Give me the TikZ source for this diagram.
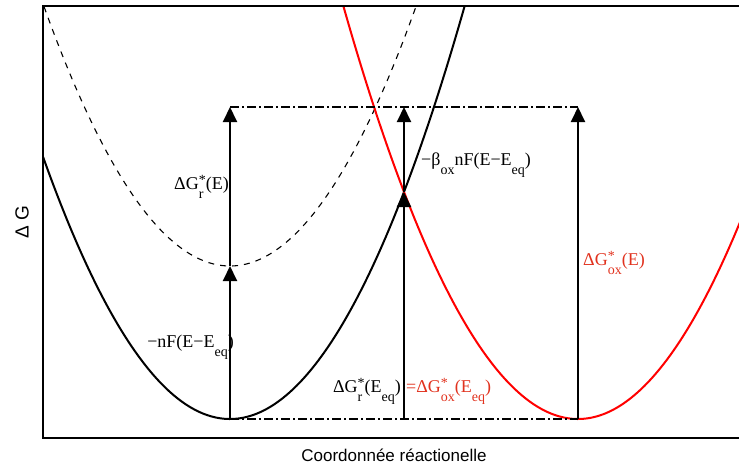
\documentclass[tikz,border=0pt]{standalone}
\usepackage{fontspec}
\setmainfont{Liberation Serif}
\newfontfamily\axisfont{Liberation Sans}
\usetikzlibrary{arrows.meta}
\newcommand\lsb[1]{\raisebox{-9pt}{\fontsize{14}{14}\selectfont #1}}
\newcommand\lsp[1]{\raisebox{5pt}{\fontsize{14}{14}\selectfont #1}}
\newcommand\lss[2]{\ooalign{\lsb{#1}\cr\lsp{#2}\cr}}
\definecolor{curvered}{RGB}{255,0,0}
\definecolor{labred}{RGB}{225,50,30}
\begin{document}
\begin{tikzpicture}[x=1pt,y=-1pt,
  curve/.style={line width=2pt},
  dcurve/.style={line width=1.1pt,dash pattern=on 6pt off 6pt},
  arr/.style={line width=2pt,-{Triangle[width=14pt,length=15pt]}},
  guide/.style={line width=2pt,dash pattern=on 9pt off 3pt on 2pt off 3pt},
  frame/.style={line width=1.5pt},
  lbl/.style={inner sep=0pt,font=\fontsize{18}{20}\selectfont},
  axlbl/.style={inner sep=0pt,font=\axisfont\fontsize{17}{20}\selectfont}]
\useasboundingbox (0,0) rectangle (739,467);
\begin{scope}
\clip (43,6) rectangle (739,438);
\draw[dcurve] plot[domain=40:420,samples=120] (\x,{266-(0.0866025*(\x-230))^2});
\draw[curve] plot[domain=40:470,samples=160] (\x,{419-(0.0866025*(\x-230))^2});
\draw[curve,curvered] plot[domain=335:745,samples=160] (\x,{419-(0.0866025*(\x-578))^2});
\end{scope}
\draw[frame] (739,6) -- (43,6) -- (43,438) -- (739,438);
\coordinate (A0) at (230,419);
\coordinate (A1) at (230,266);
\coordinate (A2) at (230,107);
\coordinate (B0) at (404,419);
\coordinate (B1) at (404,192);
\coordinate (B2) at (404,107);
\coordinate (C0) at (578,419);
\coordinate (C2) at (578,107);
\draw[guide] (A2) -- (C2);
\draw[guide] (A0) -- (C0);
\draw[arr] (A0) -- (A1);
\draw[arr] (A1) -- (A2);
\draw[arr] (B0) -- (B1);
\draw[arr] (B1) -- (B2);
\draw[arr] (C0) -- (C2);
\node[lbl,anchor=base east] (l1) at (229,189) {ΔG\lss{r}{*}(E)};
\node[lbl,anchor=base east] (l2) at (234,347) {−nF(E−E\lsb{eq})};
\node[lbl,anchor=base east] (l3) at (401,392) {ΔG\lss{r}{*}(E\lsb{eq})};
\node[lbl,anchor=base west,text=labred] (l4) at (406,392) {=ΔG\lss{ox}{*}(E\lsb{eq})};
\node[lbl,anchor=base west] (l5) at (421,165) {−β\lsb{ox}nF(E−E\lsb{eq})};
\node[lbl,anchor=base west,text=labred] (l6) at (583,265) {ΔG\lss{ox}{*}(E)};
\node[axlbl,rotate=90,font=\axisfont\fontsize{19}{20}\selectfont] (ylab) at (22,222) {Δ G};
\node[axlbl] (xlab) at (394,455) {Coordonnée réactionelle};
\end{tikzpicture}
\end{document}
